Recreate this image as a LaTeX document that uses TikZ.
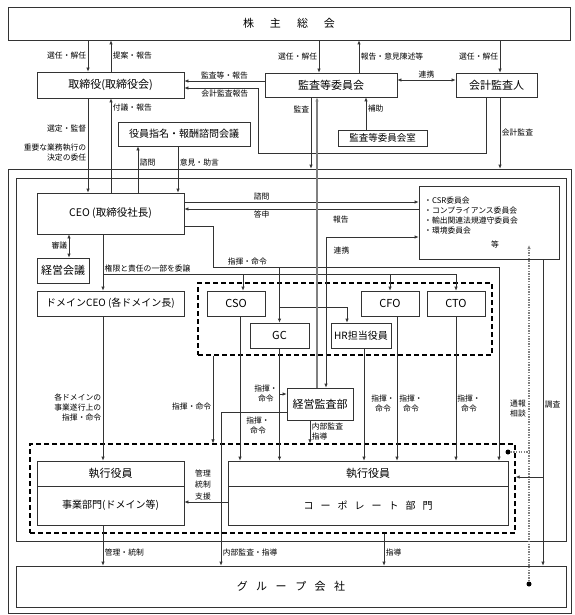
\documentclass[tikz,border=0pt]{standalone}
\usepackage{fontspec}
\setmainfont{Noto Sans CJK JP}
\usetikzlibrary{arrows.meta}

\definecolor{linecol}{gray}{0.2}

\tikzset{
  box/.style={draw=linecol, line width=.7pt, rectangle, inner sep=0pt, font=\fontsize{10}{12}\selectfont},
  big/.style={font=\fontsize{11}{13}\selectfont},
  lbl/.style={font=\fontsize{7.8}{10}\selectfont, inner sep=1.5pt},
  dashbox/.style={draw=black, line width=1.3pt, dash pattern=on 5pt off 3pt, inner sep=0pt},
  conn/.style={draw=linecol, line width=.7pt},
  report/.style={draw=gray, line width=1.3pt},
  tsuho/.style={draw=gray, line width=1.3pt, dash pattern=on 1.3pt off 1.3pt},
  endpt/.style={circle, fill=black, inner sep=0pt, minimum size=5pt},
  >={Latex[length=4pt,width=3.5pt]}
}

\begin{document}
\begin{tikzpicture}[x=1pt,y=-1pt]
    \useasboundingbox (0,0) rectangle (574,615);

    % shareholders and the three organs
    \node[box, big, minimum width=562, minimum height=33] (gms) at (289,23.5) {株\hspace{16pt}主\hspace{16pt}総\hspace{16pt}会};
    \node[box, big, minimum width=147, minimum height=26] (tori) at (110.5,85) {取締役(取締役会)};
    \node[box, big, minimum width=132, minimum height=24] (kansa) at (331,85) {監査等委員会};
    \node[box, big, minimum width=81, minimum height=24] (kaikei) at (496.5,85) {会計監査人};
    \node[box, font=\fontsize{9.5}{11}\selectfont, minimum width=89, minimum height=16] (shitsu) at (382.5,138) {監査等委員会室};
    \node[box, minimum width=132, minimum height=24] (shimei) at (184,134) {役員指名・報酬諮問会議};

    % frames
    \node[box, minimum width=563, minimum height=444] (frameO) at (289.5,391) {};
    \node[box, minimum width=550, minimum height=363] (frameI) at (291,359.5) {};

    % executive side
    \node[box, font=\fontsize{10.5}{12}\selectfont, minimum width=147, minimum height=41] (ceo) at (110.5,213.5) {CEO (取締役社長)};
    \node[box, minimum width=140, minimum height=73] (iinkai) at (489,222.5) {};
    \node[lbl, anchor=north west, align=left, inner sep=0pt] (iinkaiTxt) at (424,197) {・CSR委員会\\・コンプライアンス委員会\\・輸出関連法規遵守委員会\\・環境委員会};
    \node[lbl] at (495,245) {等};
    \node[box, big, minimum width=52, minimum height=25] (keiei) at (63,270.5) {経営会議};
    \node[box, minimum width=147, minimum height=25] (dceo) at (110.5,303.5) {ドメインCEO (各ドメイン長)};

    % officers
    \node[dashbox, minimum width=294, minimum height=72] (cxo) at (345,319) {};
    \node[box, big, minimum width=58, minimum height=25] (cso) at (236,303.5) {CSO};
    \node[box, big, minimum width=59, minimum height=25] (gc) at (279.5,335.5) {GC};
    \node[box, minimum width=60, minimum height=25] (hr) at (361,335.5) {HR担当役員};
    \node[box, big, minimum width=58, minimum height=25] (cfo) at (390,303.5) {CFO};
    \node[box, big, minimum width=58, minimum height=25] (cto) at (456,303.5) {CTO};
    \node[box, big, minimum width=66, minimum height=32] (kansabu) at (320,404) {経営監査部};

    % divisions
    \node[dashbox, minimum width=485, minimum height=89] (lowdash) at (272.5,488.5) {};
    \node[box, big, minimum width=147, minimum height=25] (jy1) at (110.5,473.5) {執行役員};
    \node[box, minimum width=147, minimum height=39] (jy2) at (110.5,505.5) {事業部門(ドメイン等)};
    \node[box, big, minimum width=280, minimum height=25] (cp1) at (368,473.5) {執行役員};
    \node[box, minimum width=280, minimum height=39] (cp2) at (368,505.5) {コ\hspace{7pt}ー\hspace{7pt}ポ\hspace{7pt}レ\hspace{7pt}ー\hspace{7pt}ト\hspace{7pt}部\hspace{7pt}門};
    \node[box, big, minimum width=550, minimum height=41] (group) at (291,586.5) {グ\hspace{8.5pt}ル\hspace{8.5pt}ー\hspace{8.5pt}プ\hspace{8.5pt}会\hspace{8.5pt}社};

    % shareholders <-> organs
    \draw[conn, ->] (88,0 |- gms.south) -- (88,0 |- tori.north) node[lbl, midway, left] {選任・解任};
    \draw[conn, <-] (111,0 |- gms.south) -- (111,0 |- tori.north) node[lbl, midway, right] {提案・報告};
    \draw[conn, ->] (319,0 |- gms.south) -- (319,0 |- kansa.north) node[lbl, midway, left] {選任・解任};
    \draw[conn, <-] (359,0 |- gms.south) -- (359,0 |- kansa.north) node[lbl, midway, right] {報告・意見陳述等};
    \draw[conn, ->] (500,0 |- gms.south) -- (500,0 |- kaikei.north) node[lbl, midway, left] {選任・解任};

    % organs among themselves
    \draw[conn, <->] (kansa.east |- 0,80) -- (kaikei.west |- 0,80) node[lbl, midway, above] {連携};
    \draw[conn, ->] (kansa.west |- 0,81) -- (tori.east |- 0,81) node[lbl, midway, above] {監査等・報告};
    \draw[conn, ->] (486,0 |- kaikei.south) -- (486,153) -- (258,153) -- (258,88) -- (tori.east |- 0,88) node[lbl, pos=.45, below] {会計監査報告};
    \draw[conn, ->] (311,0 |- kansa.south) -- (311,0 |- frameO.north) node[lbl, pos=.17, left] {監査};
    \draw[conn, ->] (366,0 |- shitsu.north) -- (366,0 |- kansa.south) node[lbl, pos=.65, right] {補助};
    \draw[conn, ->] (500,0 |- kaikei.south) -- (500,0 |- frameO.north) node[lbl, midway, right] {会計監査};

    % board -> CEO
    \draw[conn, ->] (88,0 |- tori.south) -- (88,0 |- ceo.north)
        node[lbl, pos=.32, left] {選定・監督}
        node[lbl, pos=.58, left, align=right] {重要な業務執行の\\決定の委任};
    \draw[conn, <-] (111,0 |- tori.south) -- (111,0 |- ceo.north) node[lbl, pos=.1, right] {付議・報告};
    \draw[conn, <-] (138,0 |- shimei.south) -- (138,0 |- ceo.north) node[lbl, pos=.35, right] {諮問};
    \draw[conn, ->] (178,0 |- shimei.south) -- (178,0 |- ceo.north) node[lbl, pos=.35, right] {意見・助言};

    % CEO <-> committees
    \draw[conn, ->] (ceo.east |- 0,202) -- (iinkai.west |- 0,202) node[lbl, pos=.33, above] {諮問};
    \draw[conn, <-] (ceo.east |- 0,209) -- (iinkai.west |- 0,209) node[lbl, pos=.33, below] {答申};
    \draw[conn, <->] (69,0 |- ceo.south) -- (69,0 |- keiei.north) node[lbl, midway, left] {審議};

    % delegation
    \coordinate (ik) at (103,274);
    \draw[conn, ->] (103,0 |- ceo.south) -- (103,0 |- dceo.north);
    \draw[conn] (ik) -- (ik -| cto.north);
    \node[lbl, above right] at (ik) {権限と責任の一部を委譲};
    \draw[conn, ->] (243,274) -- (243,0 |- cso.north);
    \draw[conn, ->] (ik -| cfo.north) -- (cfo.north);
    \draw[conn, ->] (ik -| cto.north) -- (cto.north);

    % command from CEO
    \coordinate (sk) at (213,267);
    \draw[conn, ->] (ceo.east |- 0,226) -| (sk) -- (499,267) node[lbl, pos=.12, above] {指揮・命令} -- (499,0 |- cp1.north);
    \draw[conn, ->] (gc.north |- sk) -- (gc.north);
    \draw[conn, ->] (gc.north |- 0,307) -| (347,0 |- hr.north);

    % officers -> divisions
    \draw[conn, ->] (213,0 |- cxo.south) -- (213,0 |- lowdash.north) node[lbl, pos=.58, left] {指揮・命令};
    \draw[conn, ->] (240,0 |- cso.south) -- (240,0 |- cp1.north);
    \draw[conn, ->] (gc.south) -- (gc.south |- cp1.north);
    \draw[conn, ->] (gc.south |- 0,394) -- (kansabu.west |- 0,394) node[lbl, at start, left, align=center] {指揮・\\命令};
    \node[lbl, align=center] at (258,426) {指揮・\\命令};
    \draw[conn, ->] (364,0 |- hr.south) -- (364,0 |- cp1.north);
    \draw[conn, ->] (397,0 |- cfo.south) -- (397,0 |- cp1.north);
    \draw[conn, ->] (cto.south) -- (cto.south |- cp1.north);
    \node[lbl, align=center] at (383,404) {指揮・\\命令};
    \node[lbl, align=center] at (411,404) {指揮・\\命令};
    \node[lbl, align=center] at (469,404) {指揮・\\命令};

    % internal audit
    \draw[report, <-] (317,0 |- kansa.south) -- (317,0 |- kansabu.north) node[lbl, pos=.42, right, xshift=14pt] {報告};
    \draw[conn, <->] (326,0 |- kansabu.north) -- (326,237) -- (iinkai.west |- 0,237);
    \node[lbl, anchor=west] at (332,251) {連携};
    \draw[conn, ->] (kansabu.west |- 0,412) -- (221,412) -- (221,0 |- group.north) node[lbl, pos=.915, right] {内部監査・指導};
    \draw[conn, ->] (310,0 |- kansabu.south) -- (310,0 |- lowdash.north) node[lbl, midway, right, align=left] {内部監査\\指導};

    % domains
    \draw[conn, ->] (103,0 |- dceo.south) -- (103,0 |- jy1.north) node[lbl, pos=.63, left, align=right] {各ドメインの\\事業遂行上の\\指揮・命令};
    \draw[conn, ->] (cp2.west |- 0,502) -- (jy2.east |- 0,502);
    \node[lbl, font=\fontsize{7.8}{11.5}\selectfont, align=center] at (203,485) {管理\\統制\\支援};

    % to group companies
    \draw[conn, ->] (103,0 |- jy2.south) -- (103,0 |- group.north) node[lbl, pos=.68, right] {管理・統制};
    \draw[conn, ->] (384,0 |- lowdash.south) -- (384,0 |- group.north) node[lbl, pos=.6, right] {指導};
    \draw[conn, ->] (543,0 |- iinkai.south) -- (543,0 |- group.north) node[lbl, pos=.475, right] {調査};
    \draw[conn, ->] (543,477) -- (lowdash.east |- 0,477);

    % whistle-blowing
    \node[endpt] (tb1) at (529,584) {};
    \node[endpt] (tb2) at (508,452) {};
    \coordinate (tbTop) at (529,245);
    \draw[tsuho, ->] (tb1) -- (tbTop);
    \draw[tsuho] (tb2) -- (tb2 -| tb1);
    \node[lbl, align=center] at (518,409) {通報\\相談};
\end{tikzpicture}
\end{document}
